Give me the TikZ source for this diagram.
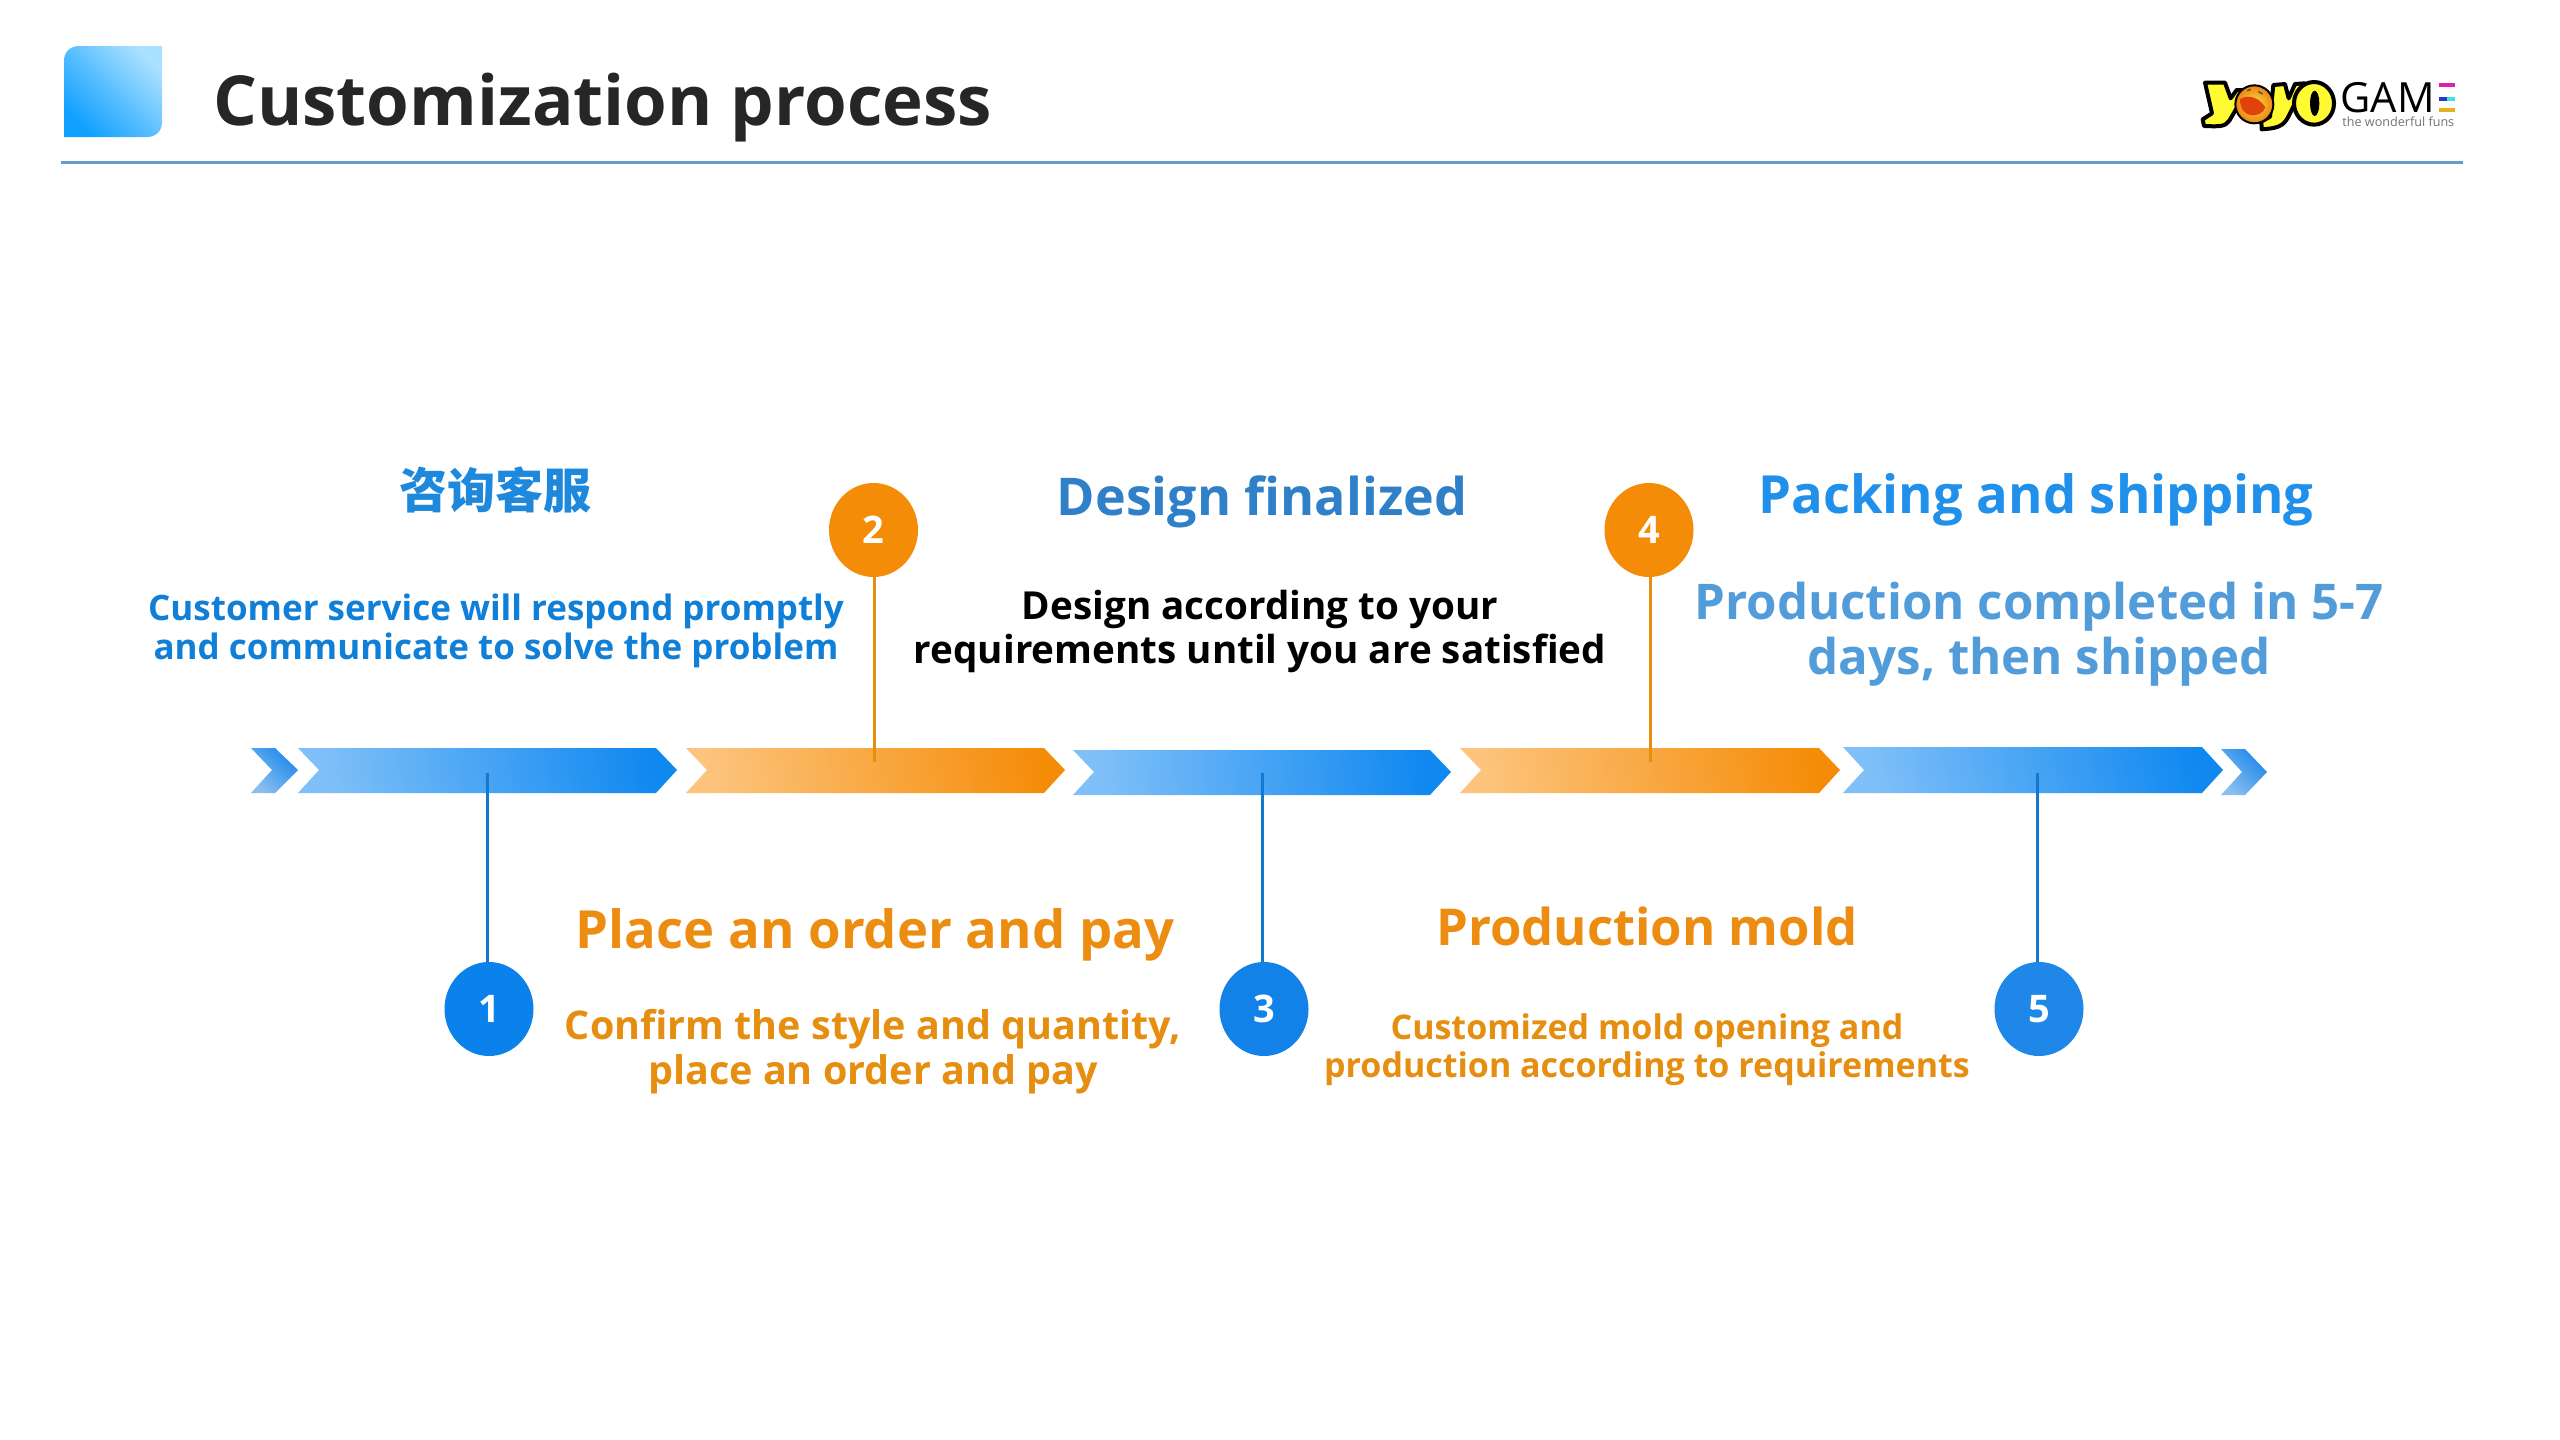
\documentclass[tikz,border=0pt]{standalone}
\usepackage{fontspec}
\setmainfont{Open Sans}
\newfontfamily\cjkfont{Noto Sans CJK SC}
\newfontfamily\logofont{Open Sans}
\usetikzlibrary{shapes.geometric}
\definecolor{blueA}{HTML}{1E88DC}
\definecolor{blueB}{HTML}{0F7FD8}
\definecolor{blueC}{HTML}{2F80C8}
\definecolor{blueD}{HTML}{2190EA}
\definecolor{blueE}{HTML}{529CDA}
\definecolor{orA}{HTML}{EC8D12}
\definecolor{orB}{HTML}{E58E10}
\definecolor{barL}{HTML}{80C0F8}
\definecolor{barR}{HTML}{0F88F0}
\definecolor{bandL}{HTML}{FCC47C}
\definecolor{bandR}{HTML}{F58C08}
\definecolor{chevL}{HTML}{8ABFF0}
\definecolor{chevR}{HTML}{1E88EC}
\definecolor{iconL}{HTML}{10A0FF}
\definecolor{iconR}{HTML}{A8E0FF}
\definecolor{titleC}{HTML}{262626}
\definecolor{ruleC}{HTML}{6699CC}
\definecolor{stemB}{HTML}{1478CD}
\definecolor{logoY}{HTML}{FFFA32}
\definecolor{faceI}{HTML}{FFE13C}
\definecolor{faceO}{HTML}{EB8214}
\definecolor{mouthC}{HTML}{E1410A}
\definecolor{eTop}{HTML}{E11EAA}
\definecolor{eMidL}{HTML}{1E3CC8}
\definecolor{eMidR}{HTML}{3CE1EB}
\definecolor{eBot}{HTML}{E6AF1E}
\definecolor{discA}{HTML}{0B82EB}
\definecolor{discB}{HTML}{1282E8}
\definecolor{discC}{HTML}{1E87E8}
\tikzset{
 bluebar/.style={left color=barL,right color=barR,shading angle=100},
 orbar/.style={left color=bandL,right color=bandR,shading angle=100},
 chev/.style={left color=chevL,right color=chevR,shading angle=135},
 bubble/.style={ellipse,minimum width=44.5pt,minimum height=47pt,inner sep=0pt,text=white,font=\bfseries\fontsize{19}{19}\selectfont,fill=#1},
 stem/.style={line width=1.5pt},
 head/.style={font=\bfseries\fontsize{#1}{#1}\selectfont,inner sep=0pt,align=center},
 para/.style n args={2}{font=\bfseries\fontsize{#1}{#2}\selectfont,inner sep=0pt,align=center},
}
\begin{document}
\begin{tikzpicture}[x=0.5pt,y=-0.5pt]
\useasboundingbox (0,0) rectangle (2560,1440);
\fill[white] (0,0) rectangle (2560,1440);
% header
\path[left color=iconL,right color=iconR,shading angle=135]
 (64,61) .. controls (64,52) and (70,46) .. (79,46) -- (162,46) -- (162,122) .. controls (162,131) and (156,137) .. (147,137) -- (64,137) -- cycle;
\node[anchor=base west,inner sep=0pt,text=titleC,font=\bfseries\fontsize{34.5}{34.5}\selectfont] (title) at (213,125) {Customization process};
\coordinate (ruleL) at (61,162);
\coordinate (ruleR) at (2463,162);
\draw[ruleC,line width=1.5pt] (ruleL) -- (ruleR);
% logo
\begin{scope}[shift={(2190,70)},x=0.16667pt,y=-0.16667pt]
 \tikzset{logo/.style={fill=logoY,draw=black,line width=2pt,line join=round}}
 \path[logo] (45,38) -- (105,38) -- (122,85) -- (140,60) -- (172,60) -- (118,152) .. controls (105,170) and (90,170) .. (42,168) -- (38,148) -- (66,130) -- cycle;
 \path[logo] (250,45) -- (285,42) -- (296,85) -- (315,42) -- (345,40) -- (295,140) .. controls (280,170) and (260,175) .. (215,178) -- (214,155) -- (240,140) -- cycle;
 \path[logo] (372,100) ellipse [x radius=60,y radius=64];
 \fill[black] (374,100) ellipse [x radius=14,y radius=38];
 \shade[inner color=faceI,outer color=faceO,draw=black,line width=1pt] (193,103) circle [radius=57];
 \fill[mouthC] (150,88) .. controls (175,70) and (210,85) .. (226,112) .. controls (215,145) and (150,150) .. (150,88) -- cycle;
 \draw[black!70,line width=.7pt] (172,62) -- (182,58) (205,65) -- (218,72);
 \node[anchor=base west,inner sep=0pt,font=\logofont\fontsize{20.8}{20.8}\selectfont,text=black] (gam) at (450,126) {GAM};
 \fill[eTop] (747,39) rectangle (795,51);
 \fill[eMidL] (747,81) rectangle (795,93);
 \fill[eMidR] (770,81) rectangle (795,93);
 \fill[eBot] (747,114) rectangle (795,126);
 \node[anchor=base west,inner sep=0pt,font=\logofont\fontsize{6.3}{6.3}\selectfont,text=black!55] (funs) at (456,169) {the wonderful funs};
\end{scope}
% arrows
\path[chev] (251,748) -- (275,748) -- (298,770) -- (275,793) -- (251,793) -- (272,770) -- cycle;
\path[bluebar] (298,748) -- (656,748) -- (677,770) -- (656,793) -- (298,793) -- (319,770) -- cycle;
\path[orbar] (686,748) -- (1044,748) -- (1065,770) -- (1044,793) -- (686,793) -- (707,770) -- cycle;
\path[bluebar] (1073,750) -- (1430,750) -- (1451,772) -- (1430,795) -- (1073,795) -- (1094,772) -- cycle;
\path[orbar] (1460,748) -- (1819,748) -- (1840,770) -- (1819,793) -- (1460,793) -- (1481,770) -- cycle;
\path[bluebar] (1843,747) -- (2202,747) -- (2223,770) -- (2202,793) -- (1843,793) -- (1864,770) -- cycle;
\path[chev] (2221,749) -- (2245,749) -- (2267,772) -- (2245,795) -- (2221,795) -- (2242,772) -- cycle;
% bubbles
\node[bubble=discA] (c1) at (489,1009) {1};
\node[bubble=bandR] (c2) at (873.5,530) {2};
\node[bubble=discB] (c3) at (1264,1009) {3};
\node[bubble=bandR] (c4) at (1649,530) {4};
\node[bubble=discC] (c5) at (2039,1009) {5};
\coordinate (e1) at (487,773);
\coordinate (e2) at (874,762);
\coordinate (e3) at (1262,773);
\coordinate (e4) at (1650,762);
\coordinate (e5) at (2037,773);
\draw[stem,stemB] (e1) -- (e1 |- c1.north);
\draw[stem,orB] (e2) -- (e2 |- c2.south);
\draw[stem,stemB] (e3) -- (e3 |- c3.north);
\draw[stem,orB] (e4) -- (e4 |- c4.south);
\draw[stem,stemB] (e5) -- (e5 |- c5.north);
% texts
\node[head=24,text=blueA] (t1) at (495,490) {\cjkfont\bfseries 咨询客服};
\node[para={17.5}{19.5},text=blueB] (d1) at (496,631) {Customer service will respond promptly\\and communicate to solve the problem};
\node[head=26.3,text=orA] (t2) at (875,935) {Place an order and pay};
\node[para={19.75}{22.5},text=orB] (d2) at (873,1052) {Confirm the style and quantity,\\place an order and pay};
\node[head=26,text=blueC] (t3) at (1262,502) {Design finalized};
\node[para={19.3}{22},text=black] (d3) at (1260,631) {Design according to your\\requirements until you are satisfied};
\node[head=25.4,text=orA] (t4) at (1647,926) {Production mold};
\node[para={17}{19},text=orB] (d4) at (1647,1050) {Customized mold opening and\\production according to requirements};
\node[head=26.3,text=blueD] (t5) at (2036,500) {Packing and shipping};
\node[para={24.6}{27.5},text=blueE] (d5) at (2039,634) {Production completed in 5-7\\days, then shipped};
\end{tikzpicture}
\end{document}
